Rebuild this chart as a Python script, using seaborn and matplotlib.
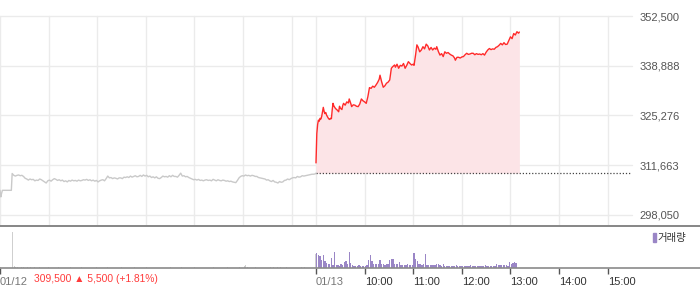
import numpy as np
import pandas as pd
import matplotlib
matplotlib.use("Agg")
import matplotlib.pyplot as plt
import seaborn as sns
from matplotlib.lines import Line2D
from matplotlib.patches import Rectangle

# ---------------- data ----------------
prev_close = 309500

# day 1 (01/12), minutes since 09:00
day1_min = [0, 1, 2, 3, 6, 10, 14, 15, 17, 19, 21, 23, 25, 27, 29, 31, 33, 35, 37, 39,
            41, 43, 45, 47, 49, 51, 53, 55, 57, 59, 61, 63, 65, 67, 69, 71, 73, 75, 77, 79,
            81, 83, 85, 87, 89, 91, 93, 95, 97, 99, 101, 103, 105, 107, 109, 111, 113, 115, 117, 119,
            121, 123, 125, 127, 129, 131, 133, 135, 137, 139, 141, 143, 145, 147, 149, 151, 153, 155, 157, 159,
            161, 163, 165, 167, 169, 171, 173, 175, 177, 179, 181, 183, 185, 187, 189, 191, 193, 195, 197, 199,
            201, 203, 205, 207, 209, 211, 213, 215, 217, 219, 221, 223, 225, 227, 229, 231, 233, 235, 237, 239,
            241, 243, 245, 247, 249, 251, 253, 255, 257, 259, 261, 263, 265, 267, 269, 271, 273, 275, 277, 279,
            281, 283, 285, 287, 289, 291, 293, 295, 297, 299, 301, 303, 305, 307, 309, 311, 313, 315, 317, 319,
            321, 323, 325, 327, 329, 331, 333, 335, 337, 339, 341, 343, 345, 347, 349, 351, 353, 355, 357, 359,
            361, 363, 365, 367, 369, 371, 373, 375, 377, 379, 381, 383, 385, 387, 389, 390]
day1_price = [304800, 303000, 304000, 304800, 304800, 304800, 304800, 309400, 308900, 308700,
              308900, 309000, 308800, 308900, 308600, 308100, 307900, 307600, 307900, 307700,
              307800, 307400, 307600, 307500, 307900, 307700, 307400, 307100, 306800, 307400,
              307600, 307300, 307700, 308000, 307800, 307500, 307700, 307400, 307600, 307200,
              307400, 307100, 307500, 307300, 307600, 307400, 307500, 307300, 307600, 307400,
              307500, 307700, 307600, 307800, 307500, 307700, 307400, 307600, 307300, 307500,
              307100, 307400, 307600, 307700, 307400, 308000, 308700, 308200, 308300, 308000,
              308200, 308100, 307900, 308200, 308200, 308000, 308400, 308300, 308500, 308300,
              308700, 308400, 308600, 308800, 308500, 308600, 308900, 308600, 309000, 308700,
              308900, 308500, 308700, 308300, 308500, 308200, 308500, 308100, 308000, 308300,
              308700, 308500, 308600, 308400, 308800, 308500, 308900, 308600, 308600, 308400,
              308900, 309500, 308700, 308800, 308500, 308600, 308300, 308100, 307900, 307700,
              307800, 307600, 307800, 307500, 307600, 307400, 307600, 307700, 307500, 307600,
              307400, 307800, 307600, 307400, 307700, 307500, 307400, 307600, 307500, 307300,
              307400, 307200, 307300, 307100, 307000, 306900, 307500, 308200, 308600, 308800,
              308700, 309000, 308800, 308900, 308700, 308900, 308800, 308600, 308600, 308300,
              308200, 308100, 308000, 307900, 307600, 307700, 307400, 307200, 307500, 307100,
              307000, 306800, 307200, 307000, 307100, 307500, 307600, 307900, 307700, 308000,
              308200, 308300, 308200, 308600, 308400, 308500, 308800, 308700, 308800, 308900,
              309000, 309100, 309200, 309200, 309300, 309500]

# day 2 (01/13), minutes since 09:00
day2_min = [0, 1, 2, 3, 4, 5, 6, 7, 8, 9, 10, 11, 12, 13, 14, 15, 16, 17, 18, 19,
            20, 21, 22, 24, 26, 28, 29, 30, 32, 33, 34, 36, 38, 40, 41, 43, 44, 46, 48, 50,
            52, 54, 56, 58, 60, 62, 64, 66, 68, 70, 72, 74, 76, 78, 79, 81, 83, 85, 87, 89,
            91, 93, 95, 97, 98, 100, 102, 104, 106, 108, 110, 112, 114, 116, 118, 120, 121, 123, 124.5, 126,
            128, 130, 132, 134, 136, 138, 140, 142, 144, 146, 148, 149, 151, 153, 155, 157, 159, 161, 163, 165,
            167, 169, 171, 172, 174, 176, 178, 180, 182, 184, 186, 188, 190, 192, 194, 196, 198, 200, 202, 204,
            206, 208, 210, 212, 214, 216, 218, 220, 222, 224, 226, 228, 230, 232, 234, 236, 238, 240, 242, 244,
            246, 248, 250, 251]
day2_price = [312300, 320300, 322800, 324000, 323700, 324500, 324300, 325000, 326200, 327500,
              326400, 325800, 326100, 325400, 325000, 324600, 324300, 324200, 324500, 324400,
              326800, 328600, 327900, 327200, 326800, 326300, 327800, 327300, 326900, 328000,
              328600, 328100, 329000, 328700, 329800, 328500, 327700, 328200, 328100, 327800,
              327700, 328400, 329800, 329300, 329000, 328600, 330400, 332900, 332700, 333300,
              333000, 333600, 334300, 335200, 336300, 334500, 333000, 333400, 334100, 334400,
              335000, 338200, 338700, 339100, 338500, 339300, 338200, 339000, 338800, 339500,
              338200, 339000, 340000, 339500, 339100, 339300, 339000, 342000, 344600, 344000,
              342700, 343200, 344100, 343500, 344800, 344300, 343200, 343900, 343200, 343700,
              343400, 344100, 342800, 341800, 342200, 341400, 342700, 342300, 342500, 342100,
              341800, 341600, 341000, 340400, 341200, 341200, 341000, 341300, 341400, 341900,
              342300, 342000, 342100, 342300, 342300, 341900, 342200, 342000, 342100, 341900,
              342200, 341800, 342600, 343200, 343600, 343300, 343500, 343400, 343900, 344100,
              344500, 345000, 344600, 345200, 344700, 344800, 345800, 346800, 346300, 347700,
              347300, 348200, 347800, 348100]

# volume (thousand shares)
day1_vol_min = [0, 2, 15, 17, 19, 21, 23, 26, 29, 33, 37, 42, 48, 59, 72, 86, 100, 119, 132, 150,
                165, 180, 197, 210, 224, 240, 263, 280, 295, 301, 303, 305, 315, 333, 337, 342, 346, 350, 353, 372,
                375, 389]
day1_vol = [1.0, 0.8, 36.0, 1.6, 1.2, 1.4, 1.0, 1.2, 0.8, 1.0, 0.8, 0.8, 0.6, 0.8, 0.6, 0.8, 0.8, 0.6, 1.0, 0.8,
            0.6, 0.8, 0.8, 1.0, 0.6, 0.8, 0.8, 1.0, 0.8, 2.2, 2.8, 1.4, 0.8, 1.0, 0.8, 1.0, 0.8, 1.0, 0.8, 0.6,
            0.8, 14.0]
day2_vol = [15, 13, 12, 8, 13, 7, 5, 4, 4, 10, 3, 16, 3, 3, 2, 4, 3, 6, 7, 4,
            16, 5, 3, 2, 2, 2, 3, 2, 2, 2, 2, 3, 8, 13, 7, 4, 4, 4, 4, 8,
            4, 4, 3, 4, 4, 8, 9, 9, 4, 4, 4, 6, 3, 3, 3, 3, 4, 3, 3, 3,
            15, 9, 7, 4, 4, 3, 4, 14, 3, 3, 3, 3, 3, 3, 4, 4, 3, 2, 4, 2,
            2, 2, 2, 2, 2, 2, 3, 2, 2, 2, 2, 2, 2, 2, 2, 3, 2, 2, 2, 2,
            2, 2, 2, 2, 3, 2, 2, 2, 2, 2, 2, 4, 3, 3, 3, 3, 3, 3, 2, 6,
            4, 5, 6, 5]

ytick_vals = [298050, 311663, 325276, 338888, 352500]
ytick_labels = ["298,050", "311,663", "325,276", "338,888", "352,500"]
xtick_labels = ["01/12", "01/13", "10:00", "11:00", "12:00", "13:00", "14:00", "15:00"]
summary_text = "309,500 \u25b2 5,500 (+1.81%)"

# ---------------- figure ----------------
sns.set_theme(style="white")
plt.rcParams['font.family'] = ['Liberation Sans', 'DejaVu Sans']

W, H = 700, 289
fig = plt.figure(figsize=(W / 100, H / 100), dpi=100)

def fx(px):
    return px / W

def fy(py):
    return 1 - py / H

DAY = 390
plot_w = 632
ax = fig.add_axes([0, fy(225), fx(plot_w), fy(16) - fy(225)])
axv = fig.add_axes([0, fy(268), fx(plot_w), fy(225) - fy(268)])

x1 = np.array(day1_min, dtype=float)
x2 = np.array(day2_min, dtype=float) + DAY

df1 = pd.DataFrame({"t": x1, "price": day1_price})
df2 = pd.DataFrame({"t": x2, "price": day2_price})

ax.fill_between(df2["t"], df2["price"], prev_close, color="#fce4e7", lw=0, zorder=1)
sns.lineplot(data=df1, x="t", y="price", ax=ax, color="#c9c9c9", linewidth=1.0, zorder=3)
sns.lineplot(data=df2, x="t", y="price", ax=ax, color="#ff2a2a", linewidth=1.0, zorder=3)
ax.plot([DAY, 2 * DAY], [prev_close, prev_close], color="#444444", lw=0.9,
        linestyle=(0, (1, 1.5)), zorder=2)

ax.set_xlim(0, 2 * DAY)
ax.set_ylim(295310, 352500)
vgrid = [0, 60, 120, 180, 240, 300, 360, 390, 450, 510, 570, 630, 690, 750]
ax.set_xticks(vgrid)
ax.set_yticks(ytick_vals)
ax.set_yticklabels(ytick_labels)
ax.grid(True, color="#ebebeb", linewidth=1.0, zorder=0)
ax.set_axisbelow(True)
ax.yaxis.tick_right()
ax.tick_params(axis="x", length=0, labelbottom=False)
ax.tick_params(axis="y", length=0, pad=5.2, labelsize=8, labelcolor="#555555")
for s in ax.spines.values():
    s.set_visible(False)
ax.set_xlabel("")
ax.set_ylabel("")
for gl in ax.get_xgridlines() + ax.get_ygridlines():
    gl.set_clip_on(False)

# volume
axv.bar(np.array(day1_vol_min, dtype=float) + 0.5, day1_vol, width=1.1, color="#cfcfcf", lw=0)
v2x = np.arange(len(day2_vol)) * 2 + DAY + 1
axv.bar(v2x, day2_vol, width=1.6, color="#9a86c6", lw=0)
axv.set_xlim(0, 2 * DAY)
axv.set_ylim(0, 43)
for s in axv.spines.values():
    s.set_visible(False)
axv.set_yticks([])
axv.set_xticks([0, 390, 450, 510, 570, 630, 690, 750])
axv.set_xticklabels(xtick_labels)
axv.tick_params(axis="x", direction="out", length=4, width=1, color="#555555",
                pad=2.5, labelsize=8, bottom=True)
for i, lab in enumerate(axv.get_xticklabels()):
    lab.set_ha("left")
    lab.set_color("#777777" if i < 2 else "#333333")
axv.set_xlabel("")

# separators
fig.add_artist(Line2D([0, 1], [fy(225.5), fy(225.5)], color="#7d7d7d", lw=1.3, transform=fig.transFigure))
fig.add_artist(Line2D([0, 1], [fy(268), fy(268)], color="#8a8a8a", lw=1.2, transform=fig.transFigure))

# summary text
fig.text(fx(34), fy(279), summary_text, color="#ff3b3b", fontsize=7.4, va="center", ha="left")

# legend
fig.add_artist(Rectangle((fx(652.5), fy(242)), fx(3), fy(233) - fy(242), color="#9a86c6",
                         transform=fig.transFigure))
fig.text(fx(657.5), fy(238), "거래량", color="#333333", fontsize=7.5, va="center", ha="left",
         family=["Noto Sans CJK KR", "DejaVu Sans"])

fig.savefig("out.png", dpi=100)
